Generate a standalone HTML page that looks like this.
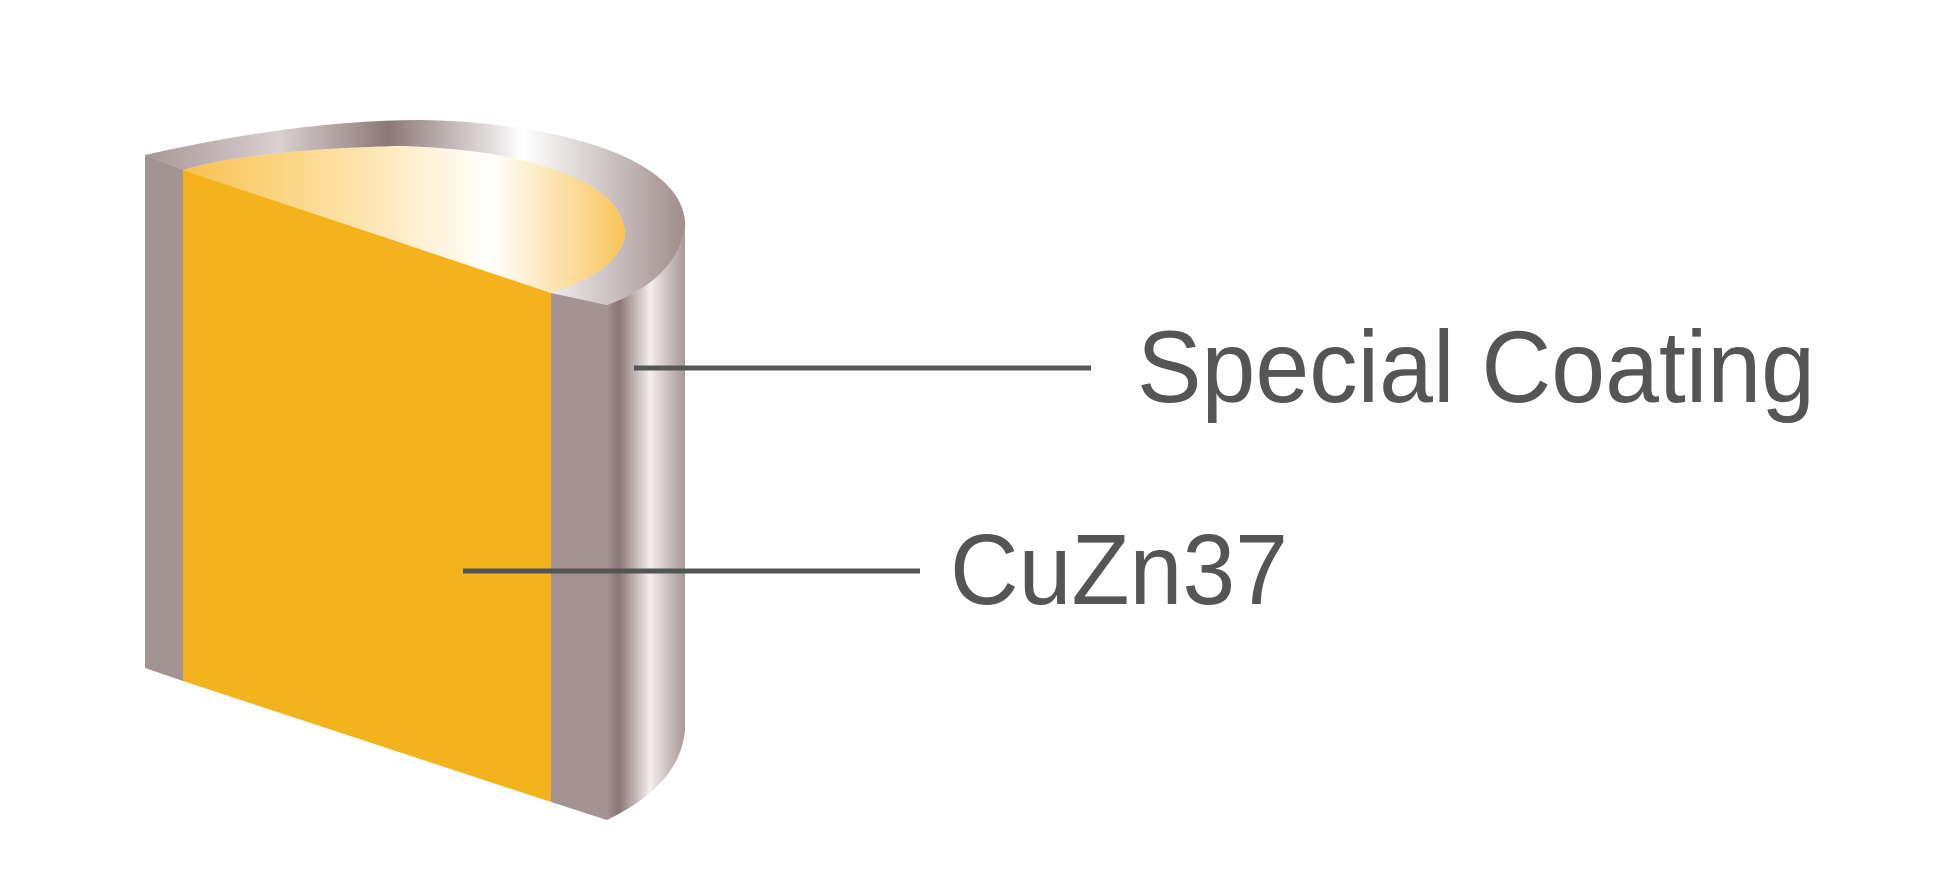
<!DOCTYPE html>
<html><head><meta charset="utf-8"><style>
html,body{margin:0;padding:0;background:#fff;width:1941px;height:881px;overflow:hidden}
</style></head><body>
<svg width="1941" height="881" viewBox="0 0 1941 881" xmlns="http://www.w3.org/2000/svg">
<defs>
<linearGradient id="side" x1="0" x2="1" y1="0" y2="0">
<stop offset="0" stop-color="#a39190"/><stop offset="0.15" stop-color="#8a7674"/>
<stop offset="0.55" stop-color="#f4eeee"/><stop offset="0.8" stop-color="#c8bcbb"/><stop offset="1" stop-color="#a99897"/>
</linearGradient>
<linearGradient id="rim" x1="0" x2="1" y1="0" y2="0">
<stop offset="0" stop-color="#a89696"/><stop offset="0.25" stop-color="#d9d0cf"/>
<stop offset="0.45" stop-color="#8c7876"/><stop offset="0.7" stop-color="#ffffff"/><stop offset="1" stop-color="#a08d8c"/>
</linearGradient>
<linearGradient id="inner" x1="0" x2="1" y1="0" y2="0">
<stop offset="0" stop-color="#f8c150"/><stop offset="0.35" stop-color="#fddfa0"/>
<stop offset="0.7" stop-color="#ffffff"/><stop offset="1" stop-color="#f9c35a"/>
</linearGradient>
</defs>
<path d="M607 305 Q675 280 685 229 L685 730 Q680 785 607 820 Z" fill="url(#side)"/>
<path d="M145 155 Q300 120 420 120 C560 122 690 160 685 229 Q675 280 607 305 L551 293 Q620 270 625 235 C625 185 540 150 400 146 Q250 150 183 170 Z" fill="url(#rim)"/>
<path d="M183 170 Q250 150 400 146 C540 150 625 185 625 235 Q620 270 551 293 Z" fill="url(#inner)"/>
<path d="M145 155 L183 170 L183 681 L145 668 Z" fill="#a59393"/>
<path d="M183 170 L551 293 L551 802 L183 681 Z" fill="#f4b21d"/>
<path d="M551 293 L607 305 L607 820 L551 802 Z" fill="#a59393"/>
<line x1="634" y1="368" x2="1091" y2="368" stroke="#555" stroke-width="5"/>
<line x1="463" y1="571" x2="920" y2="571" stroke="#555" stroke-width="5"/>
<text x="1137" y="402" font-family="Liberation Sans, sans-serif" font-size="102" fill="#555" textLength="678" lengthAdjust="spacingAndGlyphs">Special Coating</text>
<text x="950" y="604" font-family="Liberation Sans, sans-serif" font-size="100" fill="#555" textLength="338" lengthAdjust="spacingAndGlyphs">CuZn37</text>
</svg>
</body></html>
